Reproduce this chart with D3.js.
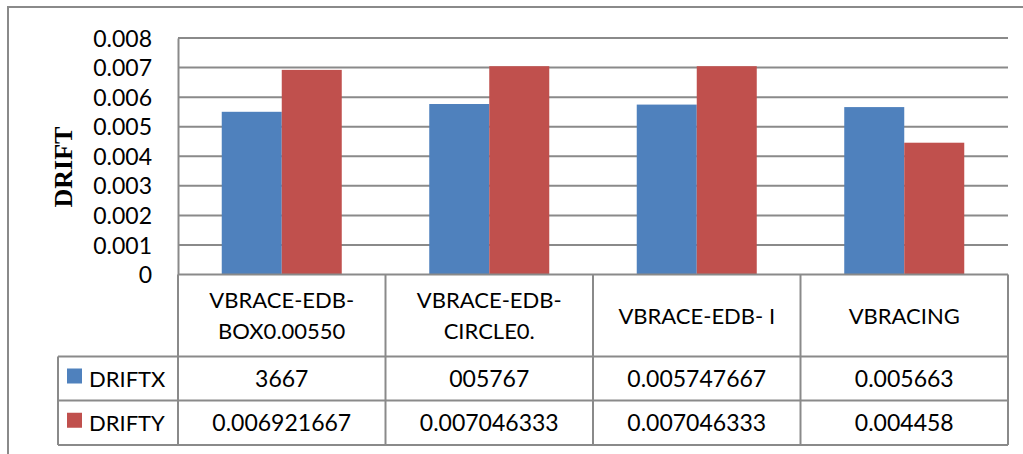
<!DOCTYPE html>
<html><head><meta charset="utf-8">
<script src="https://cdn.jsdelivr.net/npm/d3@7"></script>
<style>html,body{margin:0;padding:0;background:#fff;overflow:hidden}</style>
</head><body>
<svg id="c" width="1023" height="454"></svg>
<script>
const categories = ["VBRACE-EDB-BOX", "VBRACE-EDB-CIRCLE", "VBRACE-EDB- I", "VBRACING"];
const headerLines = [["VBRACE-EDB-","BOX0.00550"],["VBRACE-EDB-","CIRCLE0."],["VBRACE-EDB- I"],["VBRACING"]];
const seriesNames = ["DRIFTX", "DRIFTY"];
const driftX = [0.005503667, 0.005767, 0.005747667, 0.005663];
const driftY = [0.006921667, 0.007046333, 0.007046333, 0.004458];
const driftXLabels = ["3667", "005767", "0.005747667", "0.005663"];
const driftYLabels = ["0.006921667", "0.007046333", "0.007046333", "0.004458"];
const yTicks = [0, 0.001, 0.002, 0.003, 0.004, 0.005, 0.006, 0.007, 0.008];
const colors = ["#4F81BD", "#C0504D"];

const svg = d3.select("#c");
const font = "Lato, 'Open Sans', sans-serif";
const L = 178, R = 1008, T = 38, B = 274.5;
const gridCol = "#8a8a8a";

// outer border
svg.append("rect").attr("x", 8).attr("y", 7).attr("width", 1040).attr("height", 470)
  .attr("fill", "none").attr("stroke", "#8a8a8a").attr("stroke-width", 2);

const x0 = d3.scaleBand().domain(categories).range([L, R]).paddingInner(0).paddingOuter(0);
const x1 = d3.scaleBand().domain(seriesNames).range([0, x0.bandwidth()]).paddingInner(0).paddingOuter(0.729);
const y = d3.scaleLinear().domain([0, 0.008]).range([B, T]);

// gridlines
svg.append("g").selectAll("line").data(yTicks.filter(d => d > 0)).join("line")
  .attr("x1", L).attr("x2", R).attr("y1", d => y(d)).attr("y2", d => y(d))
  .attr("stroke", gridCol).attr("stroke-width", 2);

// bars
const data = categories.map((c, i) => ({c, vals: [driftX[i], driftY[i]]}));
const g = svg.append("g").selectAll("g").data(data).join("g")
  .attr("transform", d => `translate(${x0(d.c)},0)`);
g.selectAll("rect").data(d => d.vals.map((v, j) => ({s: seriesNames[j], v, j}))).join("rect")
  .attr("x", d => x1(d.s)).attr("width", x1.bandwidth())
  .attr("y", d => y(d.v)).attr("height", d => y(0) - y(d.v))
  .attr("fill", d => colors[d.j]);

// y axis
const yAxis = d3.axisLeft(y).tickValues(yTicks).tickSize(0).tickPadding(26)
  .tickFormat(d => d === 0 ? "0" : d3.format(".3f")(d));
const ya = svg.append("g").attr("transform", `translate(${L},0)`).call(yAxis);
ya.select(".domain").attr("stroke", gridCol).attr("stroke-width", 2);
ya.selectAll("text").attr("font-family", font).attr("font-size", 23).attr("fill", "#000").attr("dy", "0.35em");

// y label
svg.append("text").attr("transform", "translate(72,167) rotate(-90)")
  .attr("text-anchor", "middle").attr("font-family", "'Liberation Serif', 'Times New Roman', serif")
  .attr("font-weight", "bold").attr("font-size", 26).text("DRIFT");

// table
const rowTop = B, rowHead = 356.5, row1 = 400.5, rowBot = 445, tblLeft = 58;
const tl = svg.append("g").attr("stroke", gridCol).attr("stroke-width", 2);
tl.append("line").attr("x1", L).attr("x2", R).attr("y1", rowTop).attr("y2", rowTop);
[rowHead, row1, rowBot].forEach(yy => tl.append("line").attr("x1", tblLeft).attr("x2", R).attr("y1", yy).attr("y2", yy));
tl.append("line").attr("x1", tblLeft).attr("x2", tblLeft).attr("y1", rowHead).attr("y2", rowBot);
const vx = categories.map(c => x0(c)).concat([R]);
vx.forEach(xx => tl.append("line").attr("x1", xx).attr("x2", xx).attr("y1", rowTop).attr("y2", rowBot));

// header text
categories.forEach((c, i) => {
  const cx = x0(c) + x0.bandwidth() / 2;
  const lines = headerLines[i];
  const lh = 31.5;
  const mid = (rowTop + rowHead) / 2;
  lines.forEach((t, k) => {
    const base = mid + (k - (lines.length - 1) / 2) * lh + 8;
    svg.append("text").attr("x", cx).attr("y", base).attr("text-anchor", "middle")
      .attr("font-family", font).attr("font-size", 22).text(t);
  });
});

// data rows
const rowsY = [(rowHead + row1) / 2 + 8, (row1 + rowBot) / 2 + 8];
[driftXLabels, driftYLabels].forEach((labels, r) => {
  categories.forEach((c, i) => {
    svg.append("text").attr("x", x0(c) + x0.bandwidth() / 2).attr("y", rowsY[r])
      .attr("text-anchor", "middle").attr("font-family", font).attr("font-size", 23).text(labels[i]);
  });
  svg.append("rect").attr("x", 67).attr("y", rowsY[r] - 18).attr("width", 15).attr("height", 15).attr("fill", colors[r]);
  svg.append("text").attr("x", 89).attr("y", rowsY[r]).attr("font-family", font).attr("font-size", 22).text(seriesNames[r]);
});
</script>
</body></html>
